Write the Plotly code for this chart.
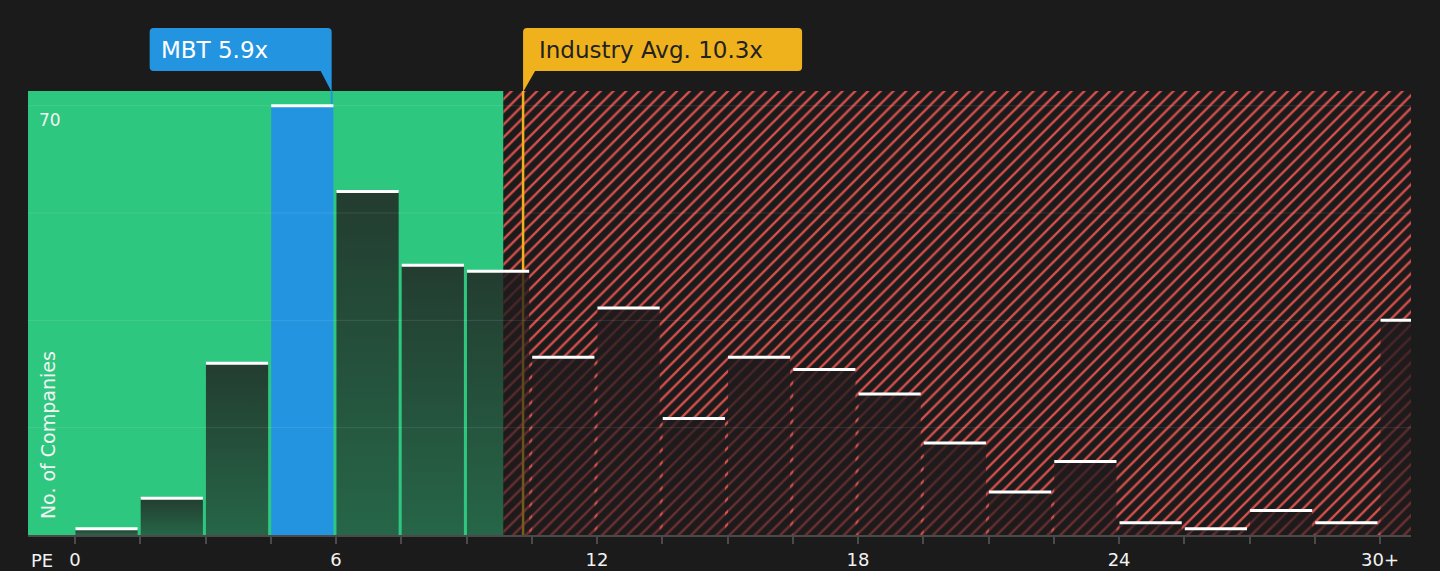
import plotly.graph_objects as go

# PE histogram: lower edge of each bin (width 1.5, last bin is 30+) and number of companies
bin_edges = [0, 1.5, 3, 4.5, 6, 7.5, 9, 10.5, 12, 13.5, 15, 16.5, 18, 19.5, 21, 22.5, 24, 25.5, 27, 28.5, 30]
counts = [1, 6, 28, 70, 56, 44, 43, 29, 37, 19, 29, 27, 23, 15, 7, 12, 2, 1, 4, 2, 35]
bin_width = 1.5

label_vals = [0, 6, 12, 18, 24, 30]
label_text = ["0", "6", "12", "18", "24", "30+"]
grid_vals = [17.5, 35, 52.5, 70]
grid_labels = ["", "", "", "70"]

company = "MBT"
company_pe = 5.9
industry_pe = 10.3
green_upto = 9.85

x_range = [-1.08, 30.71]
y_range = [0, 72.4]

BG = "#1b1b1b"
GREEN = "#2ec77f"
RED = "#d64f4d"
BLUE = "#2394df"
GOLD = "#f0b21c"
FONT = "DejaVu Sans"

fig = go.Figure()

# red hatched zone (above fair value)
fig.add_trace(go.Scatter(
    x=[green_upto, green_upto, x_range[1] + 5, x_range[1] + 5, green_upto],
    y=[-5, 100, 100, -5, -5], mode="lines", fill="toself", line=dict(width=0),
    fillcolor=BG,
    fillpattern=dict(shape="/", fgcolor=RED, bgcolor=BG, fgopacity=1, size=9, solidity=0.26),
    hoverinfo="skip", showlegend=False))

# industry average line (sits under the bars)
fig.add_trace(go.Scatter(x=[industry_pe, industry_pe], y=[0, y_range[1]], mode="lines",
                         line=dict(color=GOLD, width=2.5), hoverinfo="skip", showlegend=False))

# bars
gap = 0.06
top_x, top_y = [], []
for edge, n in zip(bin_edges, counts):
    x0, x1 = edge + 0.01, edge + bin_width - gap
    xs = [x0, x0, x1, x1, x0]
    ys = [0, n, n, 0, 0]
    if edge <= company_pe < edge + bin_width:
        fig.add_trace(go.Scatter(x=xs, y=ys, mode="lines", fill="toself", fillcolor=BLUE,
                                 line=dict(width=0), hoverinfo="skip", showlegend=False))
    else:
        fig.add_trace(go.Scatter(
            x=xs, y=ys, mode="lines", fill="toself", line=dict(width=0),
            fillgradient=dict(type="vertical",
                              colorscale=[[0, "rgba(32,26,28,0.56)"], [1, "rgba(32,26,28,0.8)"]]),
            hoverinfo="skip", showlegend=False))
    top_x += [x0, x1, None]
    top_y += [n, n, None]

# company marker line
fig.add_trace(go.Scatter(x=[company_pe, company_pe], y=[max(counts), y_range[1]], mode="lines",
                         line=dict(color=BLUE, width=2), hoverinfo="skip", showlegend=False))

fig.add_trace(go.Scatter(x=top_x, y=top_y, mode="lines", line=dict(color="white", width=3),
                         hoverinfo="skip", showlegend=False))

shapes = [dict(type="rect", xref="x", yref="paper", x0=x_range[0], x1=green_upto, y0=0, y1=1,
               fillcolor=GREEN, line=dict(width=0), layer="below")]
for g in grid_vals:
    shapes.append(dict(type="line", xref="paper", yref="y", x0=0, x1=1, y0=g, y1=g,
                       line=dict(color="rgba(255,255,255,0.1)", width=1), layer="above"))

# callout boxes with pointers (pixel units, y upwards from plot top)
r, top, bot = 4, 63, 20
w = 182
blue_path = (f"M {-w + r},{top} L {-r},{top} Q 0,{top} 0,{top - r} L 0,-1 L -11,{bot} "
             f"L {-w + r},{bot} Q {-w},{bot} {-w},{bot + r} L {-w},{top - r} Q {-w},{top} {-w + r},{top} Z")
shapes.append(dict(type="path", xref="x", yref="paper", xsizemode="pixel", ysizemode="pixel",
                   xanchor=company_pe, yanchor=1, path=blue_path, fillcolor=BLUE,
                   line=dict(width=0), layer="above"))
w = 279
gold_path = (f"M {r},{top} L {w - r},{top} Q {w},{top} {w},{top - r} L {w},{bot + r} "
             f"Q {w},{bot} {w - r},{bot} L 12,{bot} L 0,-1 L 0,{top - r} Q 0,{top} {r},{top} Z")
shapes.append(dict(type="path", xref="x", yref="paper", xsizemode="pixel", ysizemode="pixel",
                   xanchor=industry_pe, yanchor=1, path=gold_path, fillcolor=GOLD,
                   line=dict(width=0), layer="above"))

annotations = [
    dict(text=f"{company} {company_pe}x", x=company_pe, xref="x", xanchor="left", xshift=-173,
         y=1, yref="paper", yanchor="middle", yshift=41.5, showarrow=False,
         font=dict(family=FONT, size=23, color="white")),
    dict(text=f"Industry Avg. {industry_pe}x", x=industry_pe, xref="x", xanchor="left", xshift=14,
         y=1, yref="paper", yanchor="middle", yshift=41.5, showarrow=False,
         font=dict(family=FONT, size=23, color="#222222")),
    dict(text="No. of Companies", textangle=-90, x=0, xref="paper", xshift=20, xanchor="center",
         y=0.225, yref="paper", yanchor="middle", showarrow=False,
         font=dict(family=FONT, size=19, color="#f2f2f2")),
    dict(text="PE", x=0, xref="paper", xshift=14, xanchor="center", y=0, yref="paper",
         yshift=-25, yanchor="middle", showarrow=False,
         font=dict(family=FONT, size=18, color="#f2f2f2")),
]

tick_vals = list(bin_edges)
tick_text = [label_text[label_vals.index(v)] if v in label_vals else "" for v in tick_vals]

fig.update_layout(
    width=1440, height=571,
    margin=dict(l=28, r=29, t=91, b=36),
    paper_bgcolor=BG, plot_bgcolor=BG,
    shapes=shapes, annotations=annotations, showlegend=False,
    xaxis=dict(range=x_range, tickvals=tick_vals, ticktext=tick_text, showgrid=False,
               zeroline=False, showline=True, linecolor="#4a4a4a", linewidth=2,
               ticks="outside", ticklen=7, tickwidth=2, tickcolor="#4a4a4a",
               ticklabelstandoff=0, automargin=False,
               tickfont=dict(family=FONT, size=18, color="#f2f2f2")),
    yaxis=dict(range=y_range, tickvals=grid_vals, ticktext=grid_labels, showgrid=False,
               zeroline=False, showline=False, ticks="", automargin=False,
               ticklabelposition="inside bottom", ticklabelstandoff=8, ticklabelshift=2,
               tickfont=dict(family=FONT, size=17, color="#f2f2f2")),
)

fig.write_html("out.html", config={"displayModeBar": False},
               post_script="document.body.style.margin='0';document.body.style.background='#1b1b1b';")
